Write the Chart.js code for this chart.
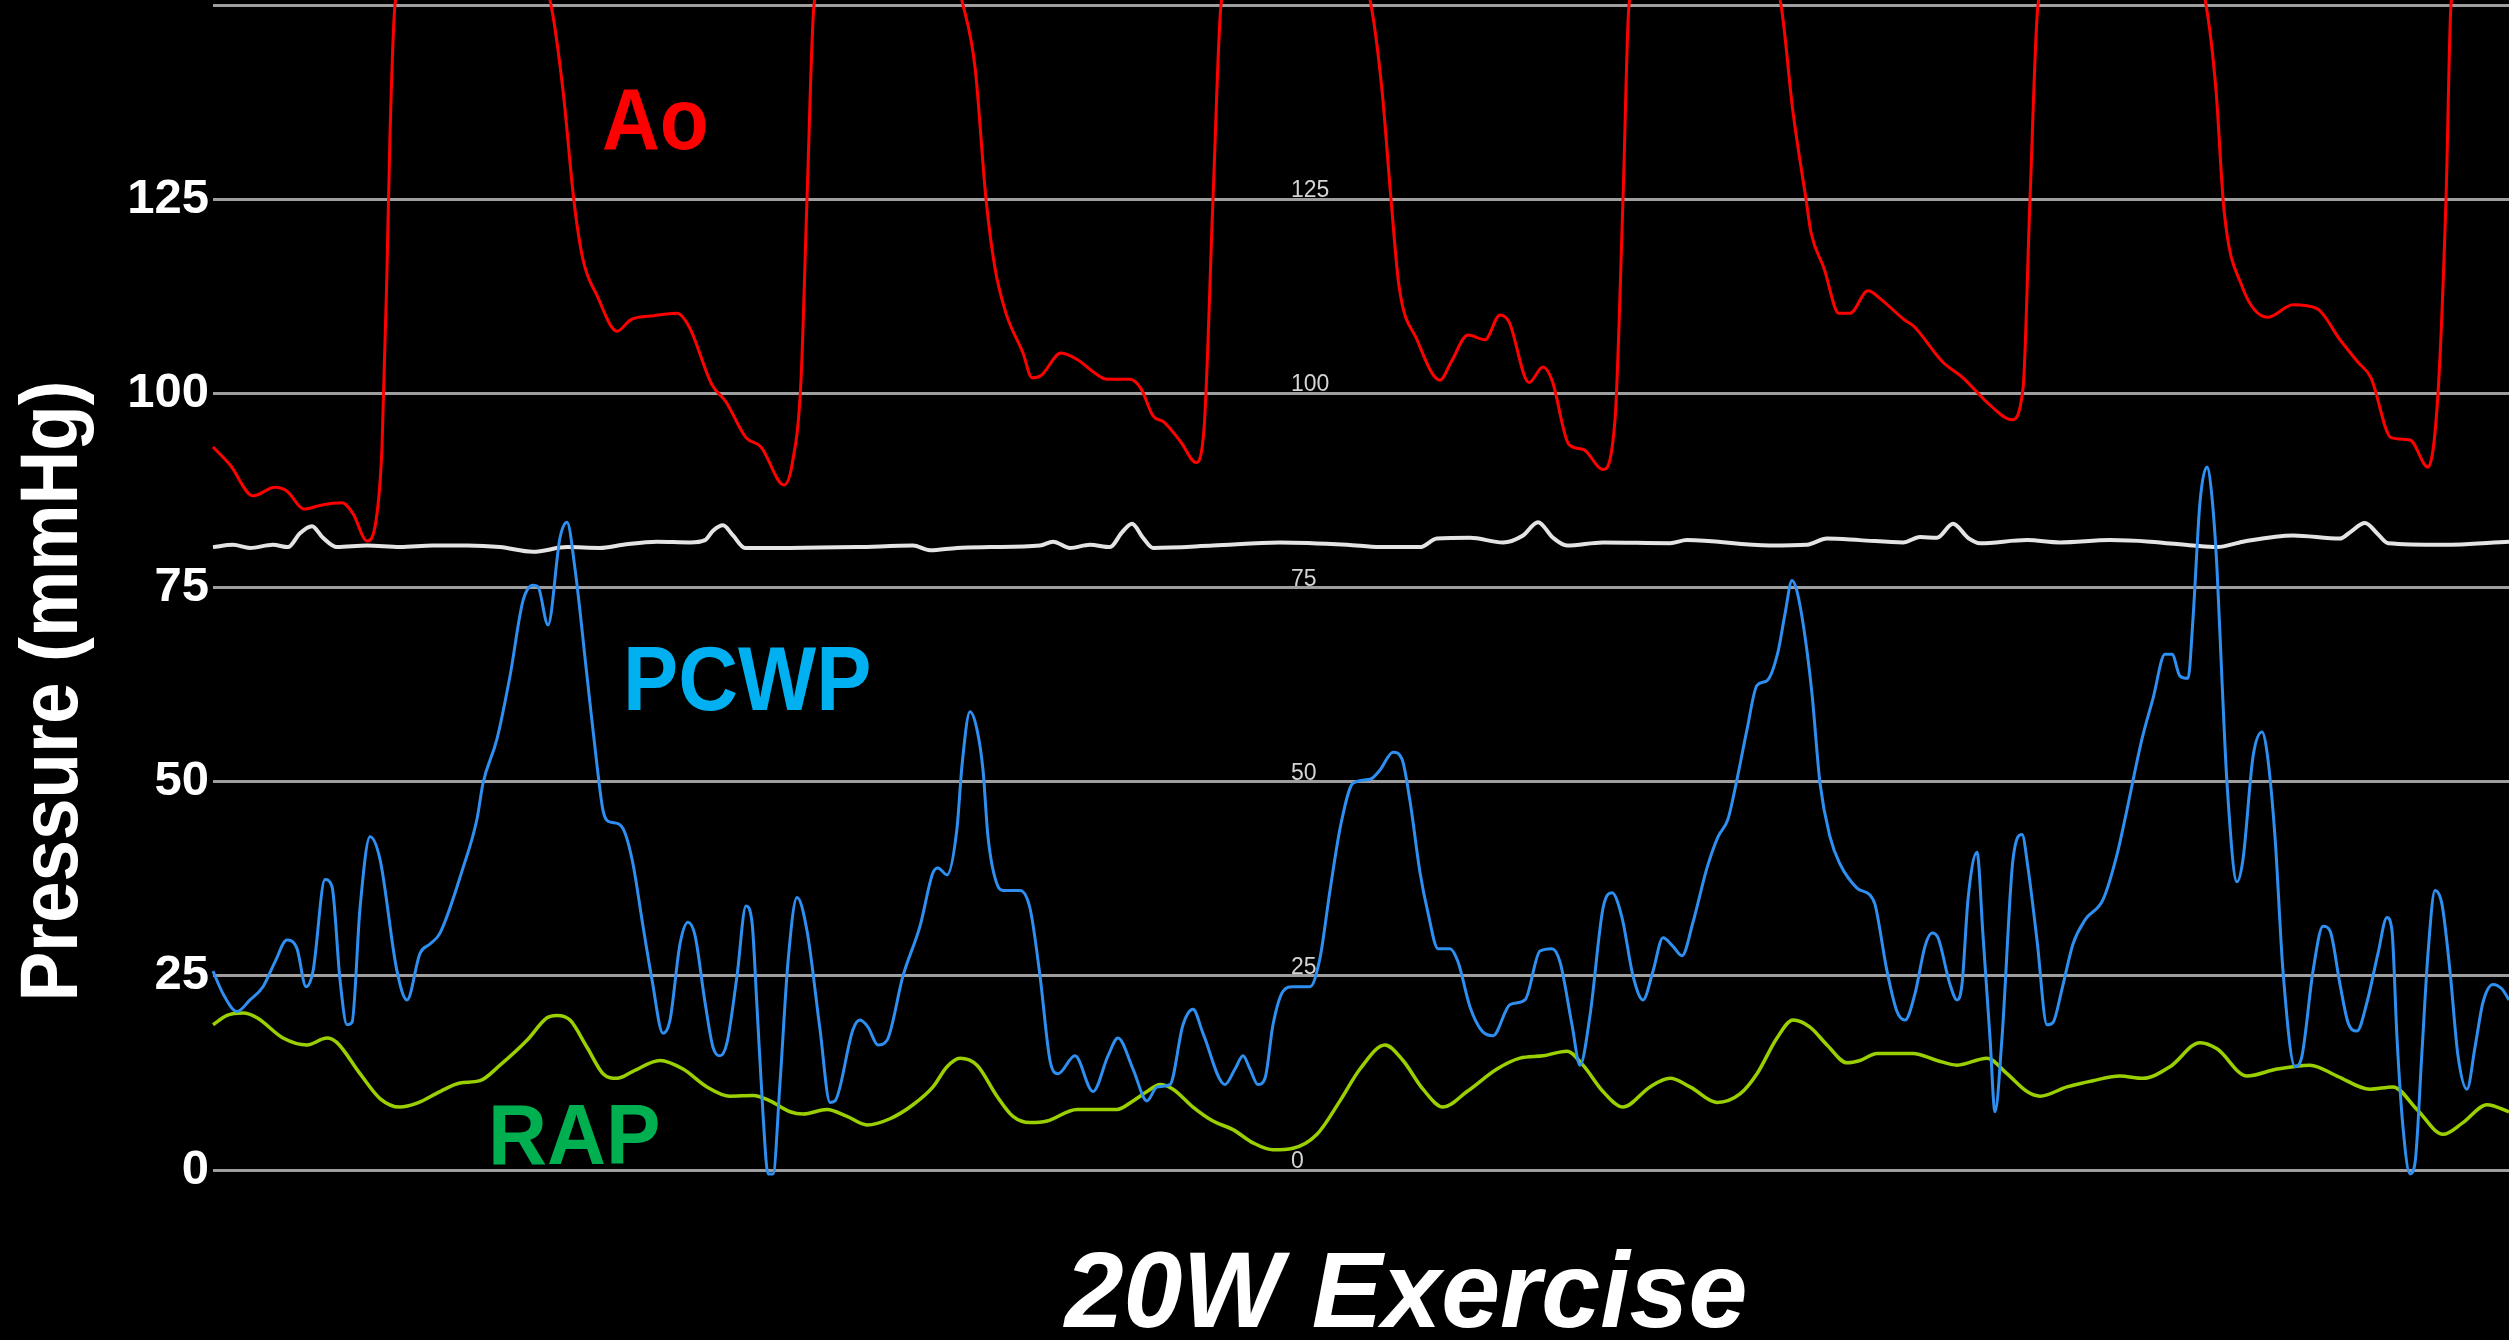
<!DOCTYPE html>
<html>
<head>
<meta charset="utf-8">
<title>20W Exercise</title>
<script src="https://cdn.jsdelivr.net/npm/chart.js@4.4.1/dist/chart.umd.min.js"></script>
<style>
  html, body { margin: 0; padding: 0; background: #000; }
  #wrap { width: 2509px; height: 1340px; position: relative; }
</style>
</head>
<body>
<div id="wrap"><canvas id="traces"></canvas></div>
<script>
// sweep position (samples) and pressure (mmHg) for each trace
const aoT = [0, 17, 40, 62, 74, 91, 108, 129, 140, 154,
  163, 169, 174, 177, 182, 260, 338, 350, 361, 370,
  384, 404, 418, 441, 464, 476, 499, 513, 533, 548,
  571, 579, 588, 594, 601, 675, 750, 762, 773, 782,
  793, 810, 819, 828, 848, 865, 882, 894, 917, 928,
  940, 951, 968, 983, 991, 1000, 1008, 1083, 1158, 1169,
  1178, 1186, 1204, 1227, 1238, 1255, 1272, 1287, 1296, 1316,
  1330, 1339, 1356, 1370, 1390, 1402, 1410, 1416, 1492, 1568,
  1580, 1593, 1598, 1611, 1626, 1637, 1655, 1668, 1691, 1701,
  1730, 1750, 1776, 1799, 1810, 1817, 1825, 1909, 1993, 2003,
  2011, 2029, 2055, 2080, 2104, 2127, 2145, 2158, 2178, 2197,
  2215, 2225, 2233, 2238, 2296];
const aoP = [93.1, 90.8, 86.8, 87.9, 87.4, 85.1, 85.6, 85.9, 84.5, 81.0,
  83.6, 93.1, 116, 133.3, 150, 180, 150, 139, 124.7, 117.2,
  112.6, 108, 109.5, 110, 110.3, 108.6, 101.1, 98.9, 94.3, 93.1,
  88.2, 90.8, 101.7, 125, 150, 180, 150, 142, 125, 116.1,
  110.3, 105.2, 102, 102.3, 105.2, 104.3, 102.6, 101.8, 101.8, 100.6,
  97.1, 96.3, 93.7, 91.1, 95.4, 125, 150, 180, 150, 139,
  125, 113.8, 106.9, 101.7, 104, 107.5, 106.9, 110.1, 109.2, 101.4,
  103.4, 101.7, 93.4, 92.8, 90.2, 96.6, 125, 150, 180, 150,
  136.2, 125, 120.7, 116.1, 110.3, 110.3, 113.2, 112.1, 109.5, 108.6,
  104, 102, 98.6, 96.6, 100.6, 125, 150, 180, 150, 139,
  123.6, 113.8, 109.8, 111.4, 110.9, 106.9, 104, 102, 94.3, 94,
  90.5, 100, 125, 150, 180];

const pcwpT = [0, 10, 24, 37, 50, 62, 74, 84, 93, 100,
  112, 119, 127, 134, 139, 147, 157, 167, 184, 194,
  207, 217, 227, 250, 264, 270, 284, 297, 310, 320,
  325, 335, 347, 354, 362, 374, 384, 390, 395, 405,
  412, 420, 430, 439, 450, 457, 467, 475, 482, 492,
  500, 507, 514, 524, 533, 539, 544, 550, 555, 560,
  567, 575, 584, 594, 607, 617, 622, 640, 647, 655,
  665, 674, 690, 707, 720, 725, 734, 744, 749, 757,
  764, 770, 775, 785, 790, 807, 817, 827, 837, 845,
  862, 880, 895, 905, 920, 934, 944, 957, 970, 980,
  990, 1012, 1022, 1030, 1037, 1045, 1052, 1060, 1070, 1080,
  1097, 1107, 1117, 1128, 1140, 1157, 1167, 1180, 1189, 1197,
  1207, 1215, 1225, 1237, 1245, 1257, 1269, 1280, 1297, 1312,
  1327, 1339, 1347, 1359, 1367, 1377, 1390, 1399, 1409, 1420,
  1430, 1440, 1450, 1460, 1469, 1480, 1494, 1505, 1515, 1524,
  1534, 1544, 1554, 1565, 1572, 1579, 1584, 1592, 1599, 1607,
  1617, 1627, 1644, 1657, 1662, 1674, 1684, 1692, 1702, 1712,
  1719, 1725, 1737, 1744, 1749, 1755, 1764, 1770, 1777, 1782,
  1789, 1800, 1809, 1815, 1824, 1834, 1840, 1849, 1860, 1872,
  1890, 1904, 1912, 1929, 1940, 1952, 1959, 1967, 1975, 1980,
  1987, 1994, 1999, 2004, 2009, 2014, 2024, 2030, 2040, 2049,
  2054, 2062, 2070, 2082, 2089, 2100, 2110, 2117, 2127, 2135,
  2144, 2154, 2165, 2174, 2179, 2184, 2190, 2197, 2202, 2209,
  2215, 2222, 2229, 2237, 2245, 2254, 2262, 2270, 2280, 2289,
  2296];
const pcwpP = [25.6, 22.7, 20.4, 21.9, 23.6, 26.8, 29.6, 28.5, 23.6, 25.6,
  37.4, 36.5, 24.5, 18.7, 19, 33.7, 42.9, 40, 25.6, 21.9,
  27.9, 29.1, 30.5, 38.9, 45.2, 49.8, 55.5, 63.6, 73.3, 75.3,
  75.1, 70.2, 81.4, 83.4, 77.4, 63.6, 52.1, 46.3, 44.9, 44.6,
  43.4, 39.4, 31.4, 24.5, 17.6, 19.3, 29.1, 31.9, 30.2, 21.6,
  15.8, 14.7, 16.4, 25, 34, 31.9, 21, 7.2, -0.5, -0.5,
  11.2, 26.8, 35.1, 30.8, 18.1, 8.7, 8.9, 18.1, 19.3, 18.4,
  16.1, 16.7, 25, 31.4, 38.3, 38.9, 38, 44, 52.1, 59,
  56.7, 51.5, 42.9, 36.5, 36, 36, 33.7, 25, 14.1, 12.4,
  14.7, 10.1, 14.7, 17, 13, 8.9, 10.7, 11, 18.7, 20.7,
  17.6, 11, 13, 14.7, 13, 11, 11.8, 18.7, 23, 23.6,
  23.6, 27.3, 36, 44.6, 49.8, 50.3, 51.5, 53.8, 52.9, 47.5,
  38.3, 33.1, 28.5, 28.5, 26.8, 21, 17.9, 17.3, 21.3, 21.9,
  28.2, 28.5, 26.8, 18.7, 13.5, 19.9, 33.7, 35.7, 32.5, 25,
  21.9, 25.6, 29.9, 28.8, 27.6, 31.9, 38.9, 42.9, 45.2, 50.3,
  56.7, 62.4, 63, 66.7, 71.6, 75.9, 74.5, 68.7, 61.3, 49.8,
  42.9, 39.4, 36.3, 35.4, 34.2, 25.6, 20.4, 19.3, 22.7, 28.8,
  30.5, 29.9, 23.9, 21.9, 23.9, 34.8, 40.9, 30.2, 17, 7.5,
  17, 40, 43.2, 38.9, 29.6, 18.7, 19, 23.3, 29.1, 32.2,
  34.8, 40.6, 45.2, 55.5, 60.7, 66.4, 66.4, 63.6, 63.3, 71,
  86, 90.5, 86.6, 77.4, 63, 49.8, 37.1, 40, 53.2, 56.4,
  53.8, 42.9, 25.6, 13.3, 14.7, 25.6, 31.4, 30.8, 23.9, 19,
  17.9, 21.6, 27.9, 32.5, 30.8, 17, 5.5, -0.5, 0.9, 15.3,
  27.9, 36, 34.2, 25.6, 14.7, 10.4, 15.8, 21.6, 23.9, 23.3,
  21.9];

const rapT = [0, 14, 30, 44, 70, 94, 114, 124, 147, 167,
  187, 204, 227, 247, 267, 287, 314, 334, 344, 357,
  374, 390, 404, 420, 447, 470, 494, 517, 540, 557,
  577, 590, 614, 634, 654, 677, 700, 720, 734, 747,
  764, 784, 800, 817, 834, 864, 904, 920, 934, 947,
  960, 980, 1000, 1020, 1040, 1060, 1080, 1104, 1127, 1147,
  1172, 1190, 1210, 1230, 1254, 1284, 1307, 1330, 1354, 1370,
  1390, 1410, 1437, 1457, 1477, 1504, 1527, 1544, 1564, 1580,
  1597, 1614, 1634, 1647, 1664, 1700, 1724, 1744, 1774, 1794,
  1814, 1827, 1854, 1880, 1907, 1930, 1957, 1987, 2004, 2034,
  2064, 2097, 2124, 2157, 2180, 2204, 2230, 2250, 2274, 2296];
const rapP = [18.7, 19.9, 20.2, 19.6, 17, 16.1, 17, 16.4, 12.4, 9.2,
  8.1, 8.6, 10.1, 11.2, 11.5, 13.5, 16.7, 19.6, 19.9, 19.3,
  15.8, 12.4, 11.8, 12.7, 14.1, 13, 10.7, 9.5, 9.6, 8.9,
  7.5, 7.2, 7.8, 6.9, 5.8, 6.6, 8.4, 10.7, 13.3, 14.4,
  13.5, 9.5, 6.9, 6.1, 6.3, 7.8, 7.8, 8.9, 10.1, 11,
  10.4, 8.1, 6.3, 5.2, 3.5, 2.6, 2.8, 4.6, 8.9, 13,
  16.1, 14.1, 10.4, 8.1, 10.1, 13, 14.4, 14.7, 15.3, 13.5,
  10.1, 8.1, 10.7, 11.8, 10.7, 8.7, 9.8, 12.4, 17, 19.3,
  18.4, 16.1, 13.8, 14.1, 15, 15, 14.1, 13.5, 14.4, 12.4,
  10.1, 9.5, 10.7, 11.5, 12.1, 11.8, 13.3, 16.4, 15.6, 12.1,
  13, 13.5, 12.1, 10.4, 10.7, 7.8, 4.6, 6.1, 8.4, 7.5];

// reference trace riding near 80
const ecgT = [0, 20, 37, 60, 75, 87, 99, 110, 124, 154,
  187, 220, 254, 287, 320, 354, 387, 410, 444, 477,
  492, 500, 510, 520, 532, 577, 644, 700, 717, 744,
  777, 827, 840, 857, 877, 897, 909, 919, 930, 940,
  1000, 1067, 1134, 1167, 1207, 1224, 1257, 1290, 1310, 1325,
  1340, 1354, 1390, 1457, 1474, 1557, 1594, 1614, 1647, 1690,
  1707, 1724, 1740, 1755, 1767, 1814, 1847, 1897, 1937, 1980,
  2004, 2030, 2080, 2127, 2137, 2152, 2164, 2175, 2230, 2296];
const ecgV = [80.2, 80.5, 80.1, 80.5, 80.2, 82, 82.9, 81.4, 80.2, 80.4,
  80.2, 80.4, 80.4, 80.2, 79.6, 80.2, 80.1, 80.5, 80.9, 80.8,
  81.1, 82.3, 83, 81.7, 80.1, 80.1, 80.2, 80.4, 79.8, 80.1,
  80.2, 80.4, 80.9, 80.1, 80.5, 80.2, 82.1, 83.2, 81.4, 80.1,
  80.4, 80.8, 80.5, 80.2, 80.2, 81.3, 81.4, 80.8, 81.7, 83.4,
  81.4, 80.4, 80.8, 80.7, 81.1, 80.4, 80.5, 81.3, 81.1, 80.8,
  81.5, 81.4, 83.2, 81.4, 80.7, 81.1, 80.8, 81.1, 80.9, 80.4,
  80.2, 80.9, 81.7, 81.3, 82.1, 83.3, 82, 80.7, 80.5, 80.9];

const yTickValues = [0, 25, 50, 75, 100, 125, 150];
const yLabelled = [0, 25, 50, 75, 100, 125];
const sweepEnd = 2296;
const innerScaleAt = 1078;   // where the faint in-plot numbers sit

const FONT = '"Liberation Sans", Arial, Helvetica, sans-serif';

const pts = (ts, vs) => ts.map((t, i) => ({ x: t, y: vs[i] }));

function drawText(ctx, text, x, y, o) {
  ctx.save();
  ctx.translate(x, y);
  if (o.rotate) ctx.rotate(o.rotate);
  ctx.scale(o.squeeze || 1, 1);
  ctx.font = o.font;
  ctx.fillStyle = o.color;
  ctx.textAlign = o.align || 'left';
  ctx.textBaseline = 'alphabetic';
  ctx.fillText(text, 0, 0);
  ctx.restore();
}

const overlayText = {
  id: 'overlayText',
  beforeDatasetsDraw(chart) {
    const { ctx, scales: { x, y } } = chart;
    ctx.save();
    ctx.font = '23px ' + FONT;
    ctx.fillStyle = '#d4d4d4';
    ctx.textAlign = 'left';
    ctx.textBaseline = 'alphabetic';
    const ix = x.getPixelForValue(innerScaleAt);
    yLabelled.forEach(v => ctx.fillText(String(v), ix, y.getPixelForValue(v) - 2));
    ctx.restore();
  },
  afterDatasetsDraw(chart) {
    const { ctx, scales: { x, y } } = chart;
    drawText(ctx, 'Ao', x.getPixelForValue(389), y.getPixelForValue(131.4),
      { font: 'bold 87px ' + FONT, color: '#ff0000', squeeze: 0.92 });
    drawText(ctx, 'PCWP', x.getPixelForValue(410), y.getPixelForValue(59.2),
      { font: 'bold 90px ' + FONT, color: '#00b0f0', squeeze: 0.92 });
    drawText(ctx, 'RAP', x.getPixelForValue(275), y.getPixelForValue(0.8),
      { font: 'bold 86px ' + FONT, color: '#00b050', squeeze: 0.95 });
  },
  afterDraw(chart) {
    const { ctx, chartArea } = chart;
    // axis titles
    drawText(ctx, 'Pressure (mmHg)', chartArea.left - 136, 691,
      { font: 'bold 81px ' + FONT, color: '#ffffff', squeeze: 0.92, rotate: -Math.PI / 2, align: 'center' });
    drawText(ctx, '20W Exercise', 1406, chartArea.bottom + 157,
      { font: 'italic bold 108px ' + FONT, color: '#ffffff', squeeze: 0.98, align: 'center' });
  }
};

const line = (data, color, width) => ({
  data,
  borderColor: color,
  borderWidth: width,
  pointRadius: 0,
  cubicInterpolationMode: 'monotone',
  clip: false,
  fill: false
});

new Chart(document.getElementById('traces'), {
  type: 'line',
  data: {
    datasets: [
      line(pts(aoT, aoP), '#ff0000', 3),
      line(pts(pcwpT, pcwpP), '#2e8ff0', 3),
      line(pts(rapT, rapP), '#9bd000', 3.5),
      line(pts(ecgT, ecgV), '#e4e4e4', 4)
    ]
  },
  options: {
    responsive: true,
    maintainAspectRatio: false,
    animation: false,
    devicePixelRatio: 1,
    layout: { padding: { top: 5, bottom: 170, left: 0, right: 0 } },
    plugins: { legend: { display: false }, tooltip: { enabled: false } },
    scales: {
      x: { type: 'linear', min: 0, max: sweepEnd, display: false },
      y: {
        min: 0,
        max: 150,
        afterBuildTicks: s => { s.ticks = yTickValues.map(v => ({ value: v })); },
        afterFit: s => { s.width = 213; s.paddingTop = 0; s.paddingBottom = 0; },
        ticks: {
          color: '#ffffff',
          padding: 4,
          font: { family: FONT, size: 49, weight: 'bold' },
          callback: v => (yLabelled.includes(v) ? String(v) : '')
        },
        grid: { color: '#9e9e9e', lineWidth: 3, drawTicks: false },
        border: { display: false }
      }
    }
  },
  plugins: [overlayText]
});
</script>
</body>
</html>
